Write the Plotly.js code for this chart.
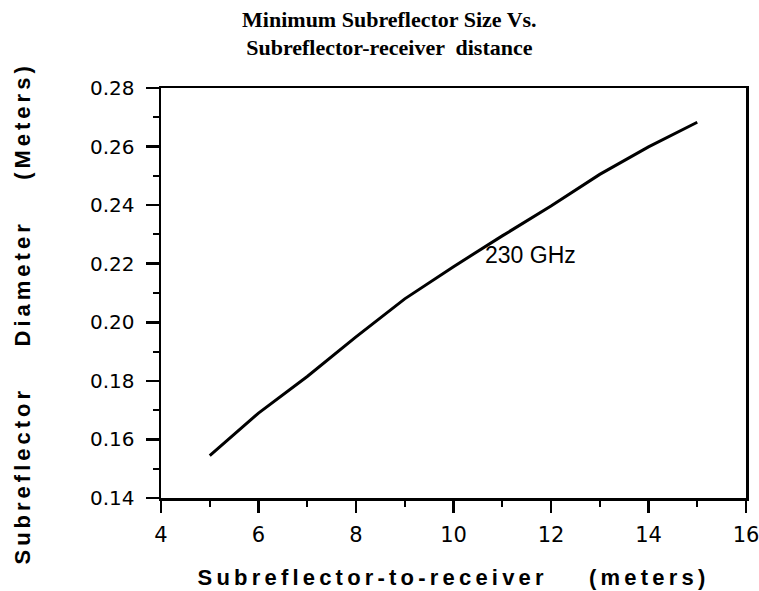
<!DOCTYPE html>
<html>
<head>
<meta charset="utf-8">
<script src="https://cdn.plot.ly/plotly-3.0.1.min.js"></script>
<style>html,body{margin:0;padding:0;background:#fff;}#chart{width:759px;height:591px;}</style>
</head>
<body>
<div id="chart"></div>
<script>
// Subreflector-to-receiver distance (meters)
const distance = [5, 6, 7, 8, 9, 10, 11, 12, 13, 14, 15];
// Minimum subreflector diameter (meters) at 230 GHz
const diameter230 = [0.1545, 0.169, 0.1815, 0.195, 0.208, 0.219, 0.2295, 0.2397, 0.2505, 0.2599, 0.2683];
const seriesLabel = "230 GHz";
const titleLines = ["Minimum Subreflector Size Vs.", "Subreflector-receiver  distance"];
const xTitle = "Subreflector-to-receiver    (meters)";
const yTitle = "Subreflector    Diameter    (Meters)";

const trace = {
  x: distance, y: diameter230, type: "scatter", mode: "lines",
  line: {color: "#000", width: 3}, showlegend: false, hoverinfo: "skip"
};

const axisTitleFont = {family: "Liberation Sans", size: 22, color: "#000", weight: "bold"};
const layout = {
  width: 759, height: 591,
  margin: {l: 161, r: 13, t: 88, b: 93},
  paper_bgcolor: "#fff", plot_bgcolor: "#fff",
  title: {
    text: titleLines.join("<br>"),
    font: {family: "Liberation Serif", size: 22, color: "#000", weight: "bold"},
    x: 0.513, xanchor: "center", y: 0.955, yanchor: "middle", yref: "container"
  },
  xaxis: {
    range: [4, 16], tick0: 4, dtick: 2, ticks: "outside", ticklen: 12, tickwidth: 2.5, tickcolor: "#000",
    minor: {dtick: 1, ticks: "outside", ticklen: 6, tickwidth: 2, tickcolor: "#000", showgrid: false},
    showline: true, linecolor: "#000", linewidth: 2.5, mirror: true, showgrid: false, zeroline: false,
    tickfont: {family: "DejaVu Sans", size: 21, color: "#000"}, ticklabelstandoff: 4,
    ticklabeloverflow: "allow",
    title: {text: '<span style="letter-spacing:4.2px">' + xTitle + '</span>',
            font: axisTitleFont, standoff: 24}
  },
  yaxis: {
    range: [0.14, 0.28], tick0: 0.14, dtick: 0.02, tickformat: ".2f",
    ticks: "outside", ticklen: 13, tickwidth: 2.5, tickcolor: "#000",
    minor: {dtick: 0.01, ticks: "outside", ticklen: 6, tickwidth: 2, tickcolor: "#000", showgrid: false},
    showline: true, linecolor: "#000", linewidth: 2.5, mirror: true, showgrid: false, zeroline: false,
    tickfont: {family: "DejaVu Sans", size: 20, color: "#000"}, ticklabelstandoff: 7,
    title: {text: ""}
  },
  annotations: [{
    x: 10.6, y: 0.223, xref: "x", yref: "y", text: seriesLabel, showarrow: false,
    xanchor: "left", yanchor: "middle",
    font: {family: "Liberation Sans", size: 23, color: "#000"}
  }, {
    x: 0, xref: "paper", xshift: -139, xanchor: "center",
    y: 0.45, yref: "paper", yanchor: "middle",
    text: '<span style="letter-spacing:4px">' + yTitle + '</span>',
    textangle: -90, showarrow: false, font: axisTitleFont
  }]
};

Plotly.newPlot("chart", [trace], layout, {staticPlot: true, displayModeBar: false});
</script>
</body>
</html>
